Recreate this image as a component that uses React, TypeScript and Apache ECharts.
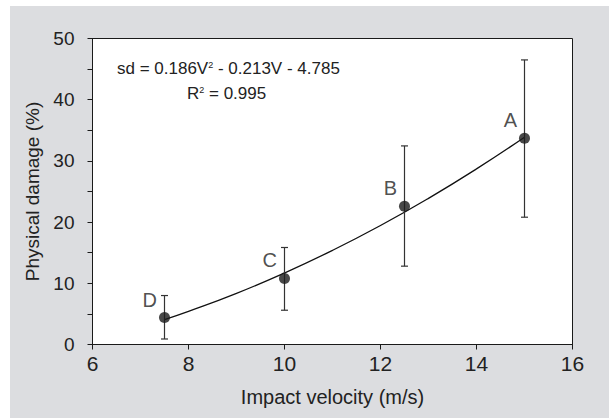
import React, { useEffect, useRef } from "react";
import * as echarts from "echarts";

const velocities = [7.5, 10, 12.5, 15];
const damage = [4.4, 10.8, 22.6, 33.7];
const errLow = [0.9, 5.6, 12.8, 20.8];
const errHigh = [8.0, 15.85, 32.45, 46.5];
const pointLabels = ["D", "C", "B", "A"];
const fitX = [7.5, 8, 9, 10, 11, 12, 13, 14, 15];
const fitY = [4.08, 5.42, 8.36, 11.69, 15.38, 19.44, 23.88, 28.69, 33.87];
const equationText = "sd = 0.186V{sup|2} - 0.213V - 4.785";
const r2Text = "R{sup|2} = 0.995";

const FONT = "'Liberation Sans', Arial, sans-serif";
const TXT = "#222";

export default function App() {
  const ref = useRef<HTMLDivElement>(null);
  useEffect(() => {
    if (!ref.current) return;
    const chart = echarts.init(ref.current, null, { renderer: "svg" });
    const errData = velocities.map((v, i) => [v, errLow[i], errHigh[i]]);
    const supStyle = { fontSize: 9, verticalAlign: "top", padding: [0, 0, 8, 0], fontFamily: FONT, fill: TXT };
    chart.setOption({
      animation: false,
      backgroundColor: "#ffffff",
      textStyle: { fontFamily: FONT },
      graphic: [
        {
          type: "rect",
          z: -10,
          silent: true,
          shape: { x: 10, y: 6, width: 600, height: 413 },
          style: { fill: "#dcdde0" },
        },
        {
          type: "text",
          left: 117,
          top: 60,
          z: 100,
          style: { text: equationText, fontFamily: FONT, fontSize: 17, fill: TXT, rich: { sup: supStyle } },
        },
        {
          type: "text",
          left: 187,
          top: 85,
          z: 100,
          style: { text: r2Text, fontFamily: FONT, fontSize: 17, fill: TXT, rich: { sup: supStyle } },
        },
      ],
      grid: {
        left: 92.5,
        right: 36.5,
        top: 38.5,
        bottom: 73.5,
        show: true,
        backgroundColor: "#ffffff",
        borderColor: "#1a1a1a",
        borderWidth: 1,
      },
      xAxis: {
        type: "value",
        min: 6,
        max: 16,
        interval: 2,
        name: "Impact velocity (m/s)",
        nameLocation: "middle",
        nameGap: 42,
        nameTextStyle: { fontSize: 20, color: TXT, fontFamily: FONT },
        axisLine: { show: true, onZero: false, lineStyle: { color: "#1a1a1a", width: 1 } },
        axisTick: { show: true, inside: false, length: 5, lineStyle: { color: "#1a1a1a" } },
        axisLabel: { fontSize: 21, color: TXT, margin: 8, fontFamily: FONT },
        splitLine: { show: false },
      },
      yAxis: {
        type: "value",
        min: 0,
        max: 50,
        interval: 10,
        name: "Physical damage (%)",
        nameLocation: "middle",
        nameGap: 48,
        nameTextStyle: { fontSize: 19, color: TXT, fontFamily: FONT },
        axisLine: { show: true, lineStyle: { color: "#1a1a1a", width: 1 } },
        axisTick: { show: true, inside: false, length: 5, lineStyle: { color: "#1a1a1a" } },
        minorTick: { show: true, splitNumber: 2, length: 5, lineStyle: { color: "#1a1a1a" } },
        axisLabel: { fontSize: 19, color: TXT, margin: 18, fontFamily: FONT },
        splitLine: { show: false },
      },
      series: [
        {
          type: "line",
          data: fitX.map((x, i) => [x, fitY[i]]),
          smooth: true,
          showSymbol: false,
          lineStyle: { color: "#111", width: 1.3 },
          z: 2,
        },
        {
          type: "custom",
          data: errData,
          z: 3,
          renderItem: (params: any, api: any) => {
            const x = api.value(0);
            const lo = api.coord([x, api.value(1)]);
            const hi = api.coord([x, api.value(2)]);
            const cap = 3.5;
            const style = { stroke: "#333", lineWidth: 1.2 };
            return {
              type: "group",
              children: [
                { type: "line", shape: { x1: lo[0], y1: lo[1], x2: hi[0], y2: hi[1] }, style },
                { type: "line", shape: { x1: lo[0] - cap, y1: lo[1], x2: lo[0] + cap, y2: lo[1] }, style },
                { type: "line", shape: { x1: hi[0] - cap, y1: hi[1], x2: hi[0] + cap, y2: hi[1] }, style },
              ],
            };
          },
        },
        {
          type: "scatter",
          data: velocities.map((v, i) => ({ value: [v, damage[i]], name: pointLabels[i] })),
          symbol: "circle",
          symbolSize: 11,
          itemStyle: { color: "#1a1a1a" },
          z: 5,
          label: {
            show: true,
            formatter: (p: any) => p.name,
            position: "left",
            distance: 2,
            offset: [0, -18],
            fontSize: 20,
            color: TXT,
            fontFamily: FONT,
          },
        },
      ],
    });
    return () => chart.dispose();
  }, []);
  return (
    <div
      ref={ref}
      style={{ position: "fixed", left: 0, top: 0, width: 609, height: 418 }}
    />
  );
}
